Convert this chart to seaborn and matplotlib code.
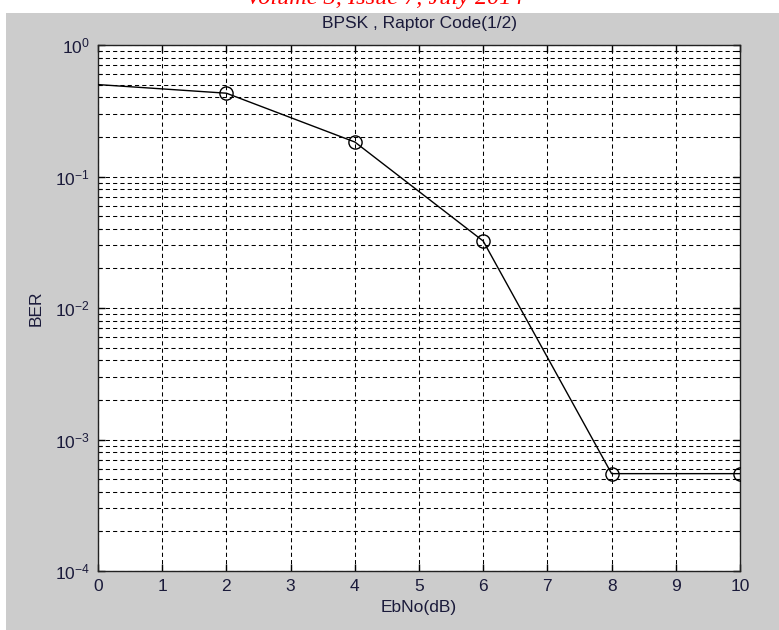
import numpy as np
import pandas as pd
import matplotlib
matplotlib.use("Agg")
import matplotlib.pyplot as plt
import matplotlib.ticker as mticker
from matplotlib.patches import Rectangle
import seaborn as sns

# data
ebno = [0, 2, 4, 6, 8, 10]
ber = [0.5, 0.43, 0.183, 0.0323, 5.5e-4, 5.5e-4]
x_ticks = list(range(0, 11))
y_ticks = [1e-4, 1e-3, 1e-2, 1e-1, 1e0]

title = "BPSK , Raptor Code(1/2)"
x_label = "EbNo(dB)"
y_label = "BER"
header = "Volume 3, Issue 7, July 2014"

sns.set_style("ticks")
plt.rcParams['font.family'] = ['Liberation Sans', 'DejaVu Sans']
plt.rcParams['mathtext.default'] = 'regular'

df = pd.DataFrame({"EbNo": ebno, "BER": ber})

fig = plt.figure(figsize=(7.79, 6.30), dpi=100, facecolor="white")

# gray figure panel (matlab style) and the clipped journal header above it
fig.patches.append(Rectangle((6 / 779, 0), 1, 1 - 13 / 630, transform=fig.transFigure,
                             facecolor="#cccccc", edgecolor="none", zorder=-1))
fig.text(385 / 779, 1 - 4 / 630, header, color="red", fontsize=17.5, style="italic",
         family="Liberation Serif", ha="center", va="baseline", zorder=-2)

ax = fig.add_axes([98 / 779, 1 - 571 / 630, (740 - 98) / 779, (571 - 45) / 630])
ax.set_facecolor("white")

sns.lineplot(data=df, x="EbNo", y="BER", ax=ax, color="black", linewidth=1,
             marker="o", markersize=9.5, markerfacecolor="none",
             markeredgecolor="black", markeredgewidth=1, markevery=[1, 2, 3, 4, 5],
             zorder=3)

ax.set_yscale("log")
ax.set_xlim(0, 10)
ax.set_ylim(1e-4, 1)
ax.set_xticks(x_ticks)
ax.yaxis.set_major_locator(mticker.FixedLocator(y_ticks))
ax.yaxis.set_major_formatter(mticker.LogFormatterMathtext())
ax.yaxis.set_minor_locator(mticker.LogLocator(base=10, subs=np.arange(2, 10), numticks=20))
ax.yaxis.set_minor_formatter(mticker.NullFormatter())

grid_kw = dict(color="black", linewidth=0.75, linestyle=(0, (4, 3)))
ax.grid(True, which="major", axis="both", **grid_kw)
ax.grid(True, which="minor", axis="y", **grid_kw)
ax.set_axisbelow(True)

ax.tick_params(which="both", direction="in", top=True, right=True, color="black",
               labelsize=12.5, labelcolor="#1a1a3a")
ax.tick_params(which="major", length=5, width=1, pad=6)
ax.tick_params(which="minor", length=3, width=0.8)
for s in ax.spines.values():
    s.set_color("#222222")
    s.set_linewidth(1)

ax.set_title(title, fontsize=12.5, color="#1a1a3a", pad=12)
ax.set_xlabel(x_label, fontsize=12.5, color="#1a1a3a", labelpad=4)
ax.set_ylabel(y_label, fontsize=12.5, color="#1a1a3a", labelpad=8)

fig.savefig("out.png", dpi=100, facecolor=fig.get_facecolor())
